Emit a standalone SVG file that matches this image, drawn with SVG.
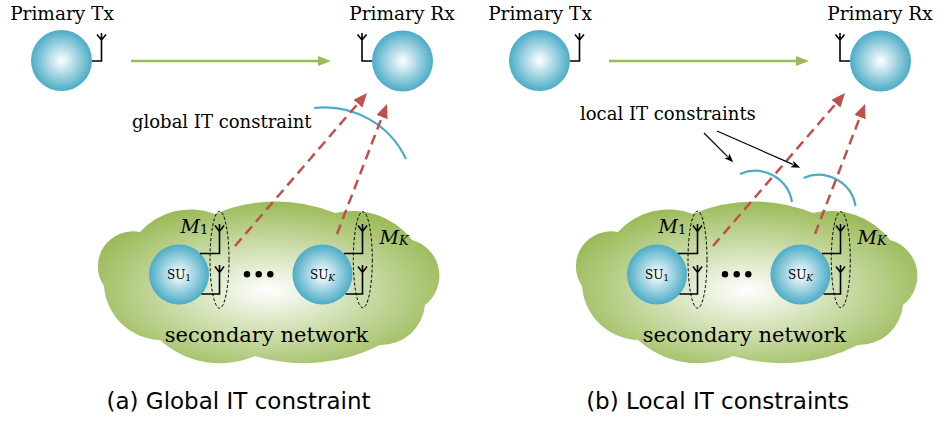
<svg xmlns="http://www.w3.org/2000/svg" width="938" height="422" viewBox="0 0 938 422">
  <defs>
    <radialGradient id="ball" cx="0.5" cy="0.5" r="0.5">
      <stop offset="0" stop-color="#ffffff"/>
      <stop offset="1" stop-color="#4BACC6"/>
    </radialGradient>
    <radialGradient id="cloudFill" cx="0.5" cy="0.55" r="0.55">
      <stop offset="0" stop-color="#ffffff"/>
      <stop offset="1" stop-color="#9BBB59"/>
    </radialGradient>
    <marker id="greenHead" markerUnits="userSpaceOnUse" markerWidth="14" markerHeight="12" refX="1" refY="5" orient="auto">
      <path d="M0,0 L13,5 L0,10 z" fill="#9BBB59"/>
    </marker>
    <marker id="redHead" markerUnits="userSpaceOnUse" markerWidth="16" markerHeight="14" refX="2" refY="6" orient="auto">
      <path d="M0,0 L14,6 L0,12 z" fill="#C0504D"/>
    </marker>
    <marker id="blackHead" markerUnits="userSpaceOnUse" markerWidth="10" markerHeight="8" refX="1" refY="3.5" orient="auto">
      <path d="M0,0 L9,3.5 L0,7 L2,3.5 z" fill="#000"/>
    </marker>
    <path id="cloudShape" d="M 104 286 A 35 35 0 0 1 140 232 A 68 68 0 0 1 215 214 A 156 156 0 0 1 335 213 A 75 75 0 0 1 412 240 A 37 37 0 0 1 425 305 A 44 44 0 0 1 380 345 A 169 169 0 0 1 255 356 A 89 89 0 0 1 160 340 A 58 58 0 0 1 104 286 Z"/>
  </defs>
  <style>
    .serif { font-family: "DejaVu Serif", "Liberation Serif", serif; fill: #000; }
    .label { font-size: 18.5px; }
    .note { font-size: 18px; }
    .net { font-size: 21px; }
    .su { font-size: 12px; }
    .sub { font-size: 9px; }
    .m { font-size: 19px; font-style: italic; }
    .msub { font-size: 13px; }
    .caption { font-family: "DejaVu Sans", "Liberation Sans", sans-serif; font-size: 23px; fill: #000; }
    .ball { fill: url(#ball); }
    .cloud { fill: url(#cloudFill); }
    .wire { fill: none; stroke: #000; stroke-width: 1.6; }
    .group { fill: none; stroke: #000; stroke-width: 1; stroke-dasharray: 3 2; }
    .link { fill: none; stroke: #9BBB59; stroke-width: 2.5; }
    .interf { fill: none; stroke: #C0504D; stroke-width: 2.5; stroke-dasharray: 10 6; }
    .limit { fill: none; stroke: #4BACC6; stroke-width: 2.2; }
    .pointer { fill: none; stroke: #000; stroke-width: 1.2; }
  </style>

  <!-- ===== Panel (a): global constraint ===== -->
  <g id="panel-a">
    <g id="a-secondary-network">
      <use href="#cloudShape" class="cloud"/>
      <text class="serif net" x="266.5" y="341.5" text-anchor="middle">secondary network</text>
    </g>
    <g id="a-primary-tx">
      <circle class="ball" cx="61.5" cy="60.5" r="30.5"/>
      <path class="wire" d="M 92 61 H 101.5 V 33 M 97 34.5 L 101.5 40 L 106 34.5"/>
      <text class="serif label" x="62" y="20" text-anchor="middle">Primary Tx</text>
    </g>
    <g id="a-primary-rx">
      <circle class="ball" cx="402.5" cy="61" r="30.5"/>
      <path class="wire" d="M 372 61 H 362 V 33 M 357.5 34.5 L 362 40 L 366.5 34.5"/>
      <text class="serif label" x="402" y="20" text-anchor="middle">Primary Rx</text>
    </g>
    <g id="a-su1">
      <circle class="ball" cx="179" cy="274.5" r="30"/>
      <text class="serif su" x="179" y="279" text-anchor="middle">SU<tspan class="sub" dy="2">1</tspan></text>
      <path class="wire" d="M 200 253.5 H 219.5 V 224 M 215 225.5 L 219.5 231.5 L 224 225.5 M 201.5 294 H 219.5 V 265 M 215 266.5 L 219.5 272.5 L 224 266.5"/>
      <ellipse class="group" cx="219.5" cy="259.7" rx="9.5" ry="48.5"/>
      <text class="serif" x="180.5" y="232.5"><tspan class="m">M</tspan><tspan class="msub" dy="1">1</tspan></text>
    </g>
    <g id="a-dots">
      <circle cx="247" cy="274.3" r="3.2"/>
      <circle cx="258.7" cy="274.3" r="3.2"/>
      <circle cx="270.3" cy="274.3" r="3.2"/>
    </g>
    <g id="a-suK">
      <circle class="ball" cx="322.5" cy="274.5" r="30"/>
      <text class="serif su" x="322.5" y="279" text-anchor="middle">SU<tspan class="sub" dy="2" font-style="italic">K</tspan></text>
      <path class="wire" d="M 344 253.5 H 362.5 V 224 M 358 225.5 L 362.5 231.5 L 367 225.5 M 345.5 294 H 362.5 V 265 M 358 266.5 L 362.5 272.5 L 367 266.5"/>
      <ellipse class="group" cx="362.8" cy="259.7" rx="9.5" ry="48"/>
      <text class="serif" x="379.5" y="244"><tspan class="m">M</tspan><tspan class="msub" dy="1" font-style="italic">K</tspan></text>
    </g>
    <g id="a-constraint">
      <path class="limit" d="M 314 108 A 90 90 0 0 1 406 159"/>
      <text class="serif note" x="132" y="128">global IT constraint</text>
    </g>
    <g id="a-connectors">
      <line class="link" x1="131" y1="61" x2="319" y2="61" marker-end="url(#greenHead)"/>
      <line class="interf" x1="235" y1="246" x2="359.2" y2="102.1" marker-end="url(#redHead)"/>
      <line class="interf" x1="337" y1="234" x2="382.7" y2="115.2" marker-end="url(#redHead)"/>
    </g>
    <text class="caption" x="238.5" y="409" text-anchor="middle">(a) Global IT constraint</text>
  </g>

  <!-- ===== Panel (b): local constraints ===== -->
  <g id="panel-b">
    <g id="b-secondary-network" transform="translate(478,0)">
      <use href="#cloudShape" class="cloud"/>
      <text class="serif net" x="266.5" y="341.5" text-anchor="middle">secondary network</text>
    </g>
    <g id="b-primary-tx" transform="translate(478,0)">
      <circle class="ball" cx="61.5" cy="60.5" r="30.5"/>
      <path class="wire" d="M 92 61 H 101.5 V 33 M 97 34.5 L 101.5 40 L 106 34.5"/>
      <text class="serif label" x="62" y="20" text-anchor="middle">Primary Tx</text>
    </g>
    <g id="b-primary-rx" transform="translate(478,0)">
      <circle class="ball" cx="402.5" cy="61" r="30.5"/>
      <path class="wire" d="M 372 61 H 362 V 33 M 357.5 34.5 L 362 40 L 366.5 34.5"/>
      <text class="serif label" x="402" y="20" text-anchor="middle">Primary Rx</text>
    </g>
    <g id="b-su1" transform="translate(478,0)">
      <circle class="ball" cx="179" cy="274.5" r="30"/>
      <text class="serif su" x="179" y="279" text-anchor="middle">SU<tspan class="sub" dy="2">1</tspan></text>
      <path class="wire" d="M 200 253.5 H 219.5 V 224 M 215 225.5 L 219.5 231.5 L 224 225.5 M 201.5 294 H 219.5 V 265 M 215 266.5 L 219.5 272.5 L 224 266.5"/>
      <ellipse class="group" cx="219.5" cy="259.7" rx="9.5" ry="48.5"/>
      <text class="serif" x="180.5" y="232.5"><tspan class="m">M</tspan><tspan class="msub" dy="1">1</tspan></text>
    </g>
    <g id="b-dots" transform="translate(478,0)">
      <circle cx="247" cy="274.3" r="3.2"/>
      <circle cx="258.7" cy="274.3" r="3.2"/>
      <circle cx="270.3" cy="274.3" r="3.2"/>
    </g>
    <g id="b-suK" transform="translate(478,0)">
      <circle class="ball" cx="322.5" cy="274.5" r="30"/>
      <text class="serif su" x="322.5" y="279" text-anchor="middle">SU<tspan class="sub" dy="2" font-style="italic">K</tspan></text>
      <path class="wire" d="M 344 253.5 H 362.5 V 224 M 358 225.5 L 362.5 231.5 L 367 225.5 M 345.5 294 H 362.5 V 265 M 358 266.5 L 362.5 272.5 L 367 266.5"/>
      <ellipse class="group" cx="362.8" cy="259.7" rx="9.5" ry="48"/>
      <text class="serif" x="379.5" y="244"><tspan class="m">M</tspan><tspan class="msub" dy="1" font-style="italic">K</tspan></text>
    </g>
    <g id="b-constraints">
      <path class="limit" d="M 740 174 A 37.5 37.5 0 0 1 792 202"/>
      <path class="limit" d="M 803.5 178 A 37.5 37.5 0 0 1 855.5 206"/>
      <text class="serif note" x="580" y="120">local IT constraints</text>
    </g>
    <g id="b-connectors">
      <line class="link" x1="609" y1="61" x2="797" y2="61" marker-end="url(#greenHead)"/>
      <line class="interf" x1="713" y1="246" x2="837.2" y2="102.1" marker-end="url(#redHead)"/>
      <line class="interf" x1="815" y1="234" x2="860.7" y2="115.2" marker-end="url(#redHead)"/>
      <line class="pointer" x1="704" y1="133" x2="727.6" y2="156.6" marker-end="url(#blackHead)"/>
      <line class="pointer" x1="717" y1="131" x2="792.8" y2="164.4" marker-end="url(#blackHead)"/>
    </g>
    <text class="caption" x="717.5" y="409" text-anchor="middle">(b) Local IT constraints</text>
  </g>
</svg>
